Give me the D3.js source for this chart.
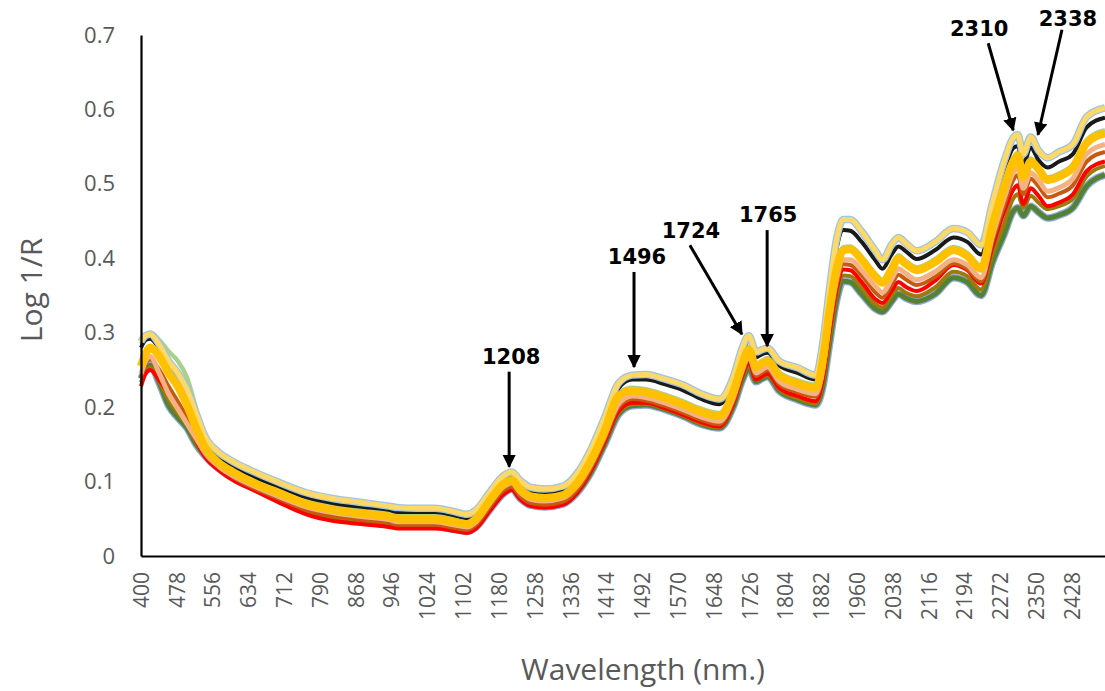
<!DOCTYPE html>
<html>
<head>
<meta charset="utf-8">
<script src="https://cdn.jsdelivr.net/npm/d3@7"></script>
<style>
  body { margin: 0; background: #fff; }
  svg { display: block; }
</style>
</head>
<body>
<div id="chart"></div>
<script>
var wavelengths = [400,410,420,440,460,480,500,520,540,570,
    600,650,700,760,820,880,940,960,1000,1040,
    1080,1110,1130,1160,1190,1208,1225,1250,1280,1320,
    1350,1380,1410,1440,1470,1500,1540,1580,1620,1660,
    1690,1710,1724,1740,1752,1765,1790,1830,1870,1885,
    1900,1915,1930,1945,1970,2000,2015,2035,2050,2065,
    2090,2130,2170,2200,2230,2255,2280,2300,2310,2322,
    2338,2355,2375,2400,2430,2460,2500];

// log 1/R spectra, one array per sample line
var lightGreen = [0.285,0.295,0.300,0.290,0.275,0.262,0.240,0.198,0.156,0.134,
    0.117,0.101,0.089,0.074,0.066,0.061,0.057,0.054,0.054,0.054,
    0.050,0.047,0.054,0.079,0.101,0.106,0.094,0.084,0.082,0.086,
    0.102,0.132,0.172,0.219,0.226,0.224,0.217,0.208,0.198,0.192,
    0.224,0.262,0.281,0.258,0.262,0.266,0.247,0.236,0.230,0.266,
    0.334,0.389,0.415,0.416,0.402,0.379,0.371,0.389,0.404,0.397,
    0.388,0.399,0.415,0.407,0.390,0.449,0.499,0.534,0.542,0.513,
    0.534,0.524,0.509,0.514,0.526,0.559,0.572];
var green = [0.238,0.250,0.256,0.232,0.202,0.186,0.172,0.150,0.134,0.117,
    0.105,0.090,0.076,0.060,0.051,0.046,0.042,0.040,0.040,0.040,
    0.036,0.033,0.039,0.062,0.084,0.090,0.078,0.068,0.066,0.070,
    0.085,0.112,0.150,0.190,0.202,0.203,0.197,0.188,0.177,0.172,
    0.200,0.236,0.252,0.234,0.238,0.241,0.222,0.210,0.203,0.226,
    0.285,0.342,0.369,0.368,0.352,0.332,0.328,0.342,0.352,0.347,
    0.342,0.352,0.374,0.368,0.350,0.395,0.432,0.463,0.468,0.457,
    0.470,0.462,0.454,0.458,0.468,0.497,0.512];
var olive = [0.233,0.248,0.253,0.234,0.210,0.192,0.176,0.153,0.134,0.116,
    0.104,0.089,0.074,0.058,0.049,0.045,0.041,0.039,0.039,0.039,
    0.035,0.032,0.038,0.062,0.084,0.090,0.078,0.068,0.066,0.070,
    0.085,0.113,0.152,0.192,0.204,0.205,0.198,0.189,0.178,0.173,
    0.202,0.239,0.256,0.236,0.240,0.243,0.224,0.212,0.205,0.231,
    0.292,0.350,0.377,0.376,0.360,0.338,0.334,0.349,0.360,0.354,
    0.349,0.361,0.382,0.376,0.358,0.405,0.446,0.480,0.486,0.468,
    0.484,0.475,0.466,0.470,0.480,0.510,0.524];
var red = [0.228,0.245,0.250,0.236,0.218,0.198,0.180,0.155,0.133,0.115,
    0.102,0.087,0.072,0.056,0.047,0.043,0.039,0.037,0.037,0.037,
    0.034,0.031,0.037,0.061,0.083,0.089,0.077,0.067,0.065,0.069,
    0.085,0.114,0.153,0.194,0.206,0.206,0.199,0.190,0.180,0.174,
    0.204,0.242,0.260,0.237,0.241,0.245,0.226,0.215,0.208,0.236,
    0.300,0.357,0.385,0.384,0.368,0.345,0.340,0.356,0.368,0.362,
    0.356,0.370,0.391,0.384,0.366,0.416,0.462,0.492,0.498,0.473,
    0.494,0.484,0.470,0.475,0.486,0.517,0.530];
var darkOrange = [0.240,0.258,0.264,0.250,0.228,0.208,0.186,0.160,0.138,0.120,
    0.106,0.090,0.077,0.062,0.054,0.049,0.045,0.042,0.042,0.042,
    0.038,0.035,0.042,0.066,0.088,0.093,0.081,0.071,0.069,0.073,
    0.089,0.118,0.157,0.199,0.211,0.209,0.202,0.193,0.183,0.177,
    0.208,0.246,0.265,0.242,0.246,0.250,0.231,0.220,0.214,0.244,
    0.310,0.363,0.392,0.391,0.377,0.354,0.347,0.364,0.378,0.372,
    0.364,0.375,0.393,0.386,0.369,0.423,0.470,0.505,0.512,0.486,
    0.507,0.497,0.482,0.487,0.498,0.530,0.543];
var peach = [0.245,0.262,0.268,0.245,0.218,0.198,0.178,0.158,0.138,0.120,
    0.108,0.093,0.080,0.066,0.058,0.053,0.049,0.046,0.046,0.046,
    0.042,0.039,0.046,0.071,0.093,0.098,0.086,0.076,0.074,0.078,
    0.094,0.123,0.162,0.204,0.215,0.213,0.206,0.197,0.187,0.181,
    0.212,0.250,0.269,0.246,0.250,0.254,0.235,0.224,0.218,0.250,
    0.318,0.372,0.398,0.398,0.384,0.362,0.354,0.372,0.386,0.380,
    0.371,0.382,0.398,0.391,0.374,0.430,0.480,0.515,0.522,0.494,
    0.515,0.505,0.490,0.495,0.507,0.540,0.553];
var black = [0.280,0.290,0.292,0.278,0.255,0.238,0.214,0.184,0.154,0.133,
    0.121,0.106,0.093,0.079,0.071,0.066,0.062,0.059,0.059,0.059,
    0.055,0.051,0.057,0.081,0.103,0.108,0.097,0.087,0.085,0.089,
    0.105,0.137,0.180,0.225,0.237,0.237,0.231,0.223,0.211,0.204,
    0.232,0.273,0.290,0.267,0.271,0.273,0.256,0.246,0.237,0.275,
    0.348,0.412,0.438,0.437,0.422,0.397,0.386,0.405,0.416,0.410,
    0.399,0.411,0.428,0.422,0.405,0.462,0.517,0.548,0.551,0.526,
    0.549,0.532,0.522,0.530,0.540,0.576,0.589];
var paleYellow = [0.288,0.296,0.298,0.284,0.262,0.246,0.224,0.192,0.160,0.139,
    0.127,0.112,0.099,0.085,0.077,0.072,0.067,0.065,0.064,0.064,
    0.060,0.056,0.062,0.086,0.108,0.113,0.102,0.092,0.090,0.094,
    0.111,0.143,0.186,0.232,0.243,0.244,0.238,0.230,0.218,0.211,
    0.240,0.280,0.296,0.274,0.277,0.279,0.262,0.253,0.243,0.285,
    0.360,0.425,0.452,0.452,0.436,0.410,0.398,0.418,0.428,0.421,
    0.410,0.422,0.440,0.435,0.418,0.475,0.530,0.562,0.566,0.540,
    0.563,0.545,0.535,0.543,0.553,0.590,0.602];
var gold = [0.255,0.272,0.280,0.268,0.246,0.228,0.203,0.172,0.145,0.125,
    0.113,0.097,0.085,0.070,0.062,0.057,0.053,0.050,0.050,0.050,
    0.046,0.043,0.050,0.075,0.097,0.102,0.090,0.080,0.078,0.082,
    0.098,0.128,0.168,0.215,0.222,0.220,0.213,0.204,0.194,0.188,
    0.220,0.258,0.277,0.254,0.258,0.262,0.243,0.232,0.226,0.262,
    0.330,0.385,0.411,0.412,0.398,0.375,0.367,0.385,0.400,0.393,
    0.384,0.395,0.411,0.403,0.386,0.445,0.495,0.530,0.538,0.509,
    0.530,0.520,0.505,0.510,0.522,0.555,0.568];

var xTickLabels = [400,478,556,634,712,790,868,946,1024,1102,1180,1258,1336,1414,
    1492,1570,1648,1726,1804,1882,1960,2038,2116,2194,2272,2350,2428];
var yTickLabels = ['0','0.1','0.2','0.3','0.4','0.5','0.6','0.7'];
var yTickValues = [0,0.1,0.2,0.3,0.4,0.5,0.6,0.7];

// marked absorption peaks: label, wavelength at arrow tip, value at arrow tip
var peakLabels = ['1208','1496','1724','1765','2310','2338'];
var peakTipWl = [1202,1474,1709,1764,2300,2354];
var peakTipVal = [0.120,0.254,0.298,0.282,0.572,0.566];

// drawing style per line, bottom of the stack first
var lineStyles = [
    { data: lightGreen, color: '#a9d18e', width: 4.5 },
    { data: green, color: '#548235', width: 5, halo: '#8faadc' },
    { data: olive, color: '#9c7a0c', width: 4 },
    { data: red, color: '#ff0000', width: 4 },
    { data: darkOrange, color: '#c55a11', width: 4 },
    { data: peach, color: '#f4b183', width: 5 },
    { data: black, color: '#1a1a1a', width: 4 },
    { data: paleYellow, color: '#ffd966', width: 5, halo: '#9dc3e6' },
    { data: gold, color: '#ffc000', width: 8 }
];

// label position and arrow tail, in px relative to arrow tip
var peakLayout = [
    { tx: 0, ty: -95, lx: 2, ly: -109 },
    { tx: 0, ty: -95, lx: 3, ly: -109 },
    { tx: -52, ty: -89, lx: -51, ly: -102 },
    { tx: 0, ty: -116, lx: 1, ly: -130 },
    { tx: -25, ty: -87, lx: -34, ly: -100 },
    { tx: 24, ty: -105, lx: 30, ly: -115 }
];

var W = 1105, H = 691;
var x = d3.scaleLinear().domain([400, 2500]).range([141, 1105]);
var y = d3.scaleLinear().domain([0, 0.7]).range([556, 35]);

var svg = d3.select('#chart').append('svg')
    .attr('width', W)
    .attr('height', H)
    .style('font-family', 'Open Sans, sans-serif');

svg.append('defs').append('marker')
    .attr('id', 'arrow')
    .attr('viewBox', '0 0 10 10')
    .attr('refX', 9)
    .attr('refY', 5)
    .attr('markerWidth', 4.5)
    .attr('markerHeight', 4.5)
    .attr('markerUnits', 'strokeWidth')
    .attr('orient', 'auto')
    .append('path')
    .attr('d', 'M0,0 L10,5 L0,10 z')
    .attr('fill', '#000');

var line = d3.line()
    .x(function (d, i) { return x(wavelengths[i]); })
    .y(function (d) { return y(d); })
    .curve(d3.curveMonotoneX);

var lines = svg.append('g').attr('class', 'spectra');
lineStyles.forEach(function (s) {
    if (s.halo) {
        lines.append('path')
            .datum(s.data)
            .attr('fill', 'none')
            .attr('stroke', s.halo)
            .attr('stroke-width', s.width + 2.5)
            .attr('stroke-linejoin', 'round')
            .attr('d', line);
    }
    lines.append('path')
        .datum(s.data)
        .attr('fill', 'none')
        .attr('stroke', s.color)
        .attr('stroke-width', s.width)
        .attr('stroke-linejoin', 'round')
        .attr('d', line);
});

// axes
var yAxis = d3.axisLeft(y)
    .tickValues(yTickValues)
    .tickFormat(function (d, i) { return yTickLabels[i]; })
    .tickSize(0)
    .tickPadding(26);
var gy = svg.append('g')
    .attr('transform', 'translate(141,0)')
    .call(yAxis);
gy.select('.domain').attr('stroke', '#000').attr('stroke-width', 2.2);
gy.selectAll('text')
    .style('font-size', '22px')
    .style('font-family', 'Open Sans, sans-serif')
    .attr('fill', '#595959');

var xAxis = d3.axisBottom(x)
    .tickValues(xTickLabels)
    .tickFormat(function (d) { return String(d); })
    .tickSize(0)
    .tickSizeOuter(0);
var gx = svg.append('g')
    .attr('transform', 'translate(0,556)')
    .call(xAxis);
gx.select('.domain').attr('stroke', '#000').attr('stroke-width', 2.2);
gx.selectAll('text')
    .attr('transform', 'rotate(-90)')
    .attr('x', -16)
    .attr('y', 0)
    .attr('dy', '0.35em')
    .style('text-anchor', 'end')
    .style('font-size', '21px')
    .style('font-family', 'Open Sans, sans-serif')
    .attr('fill', '#595959');

svg.append('text')
    .attr('transform', 'translate(34,290) rotate(-90)')
    .attr('text-anchor', 'middle')
    .attr('dominant-baseline', 'middle')
    .attr('fill', '#595959')
    .style('font-size', '30px')
    .text('Log 1/R');

svg.append('text')
    .attr('x', 643)
    .attr('y', 672)
    .attr('text-anchor', 'middle')
    .attr('dominant-baseline', 'middle')
    .attr('fill', '#595959')
    .style('font-size', '30px')
    .text('Wavelength (nm.)');

// peak arrows and labels
var notes = svg.append('g').attr('class', 'peaks');
peakLabels.forEach(function (lab, i) {
    var px = x(peakTipWl[i]);
    var py = y(peakTipVal[i]);
    var l = peakLayout[i];
    notes.append('line')
        .attr('x1', px + l.tx)
        .attr('y1', py + l.ty)
        .attr('x2', px)
        .attr('y2', py)
        .attr('stroke', '#000')
        .attr('stroke-width', 3)
        .attr('marker-end', 'url(#arrow)');
    notes.append('text')
        .attr('x', px + l.lx)
        .attr('y', py + l.ly)
        .attr('text-anchor', 'middle')
        .attr('dominant-baseline', 'middle')
        .style('font-family', 'DejaVu Sans, Verdana, sans-serif')
        .style('font-weight', 'bold')
        .style('font-size', '21px')
        .attr('fill', '#000')
        .text(lab);
});
</script>
</body>
</html>
